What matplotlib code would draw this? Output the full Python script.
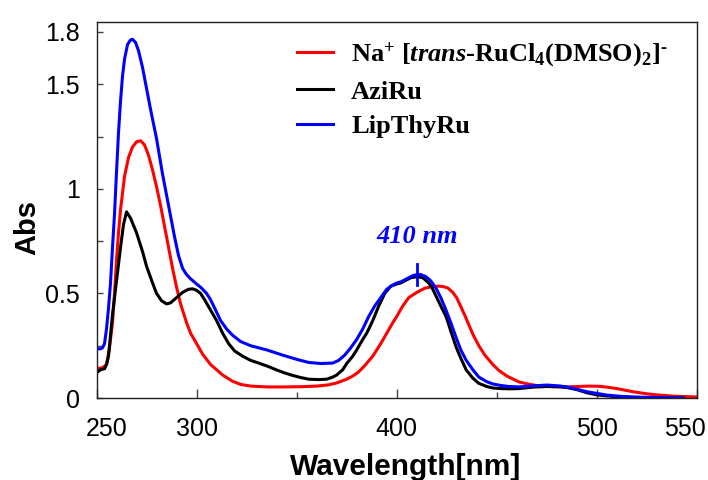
import matplotlib
matplotlib.use("Agg")
import matplotlib.pyplot as plt
import matplotlib.transforms as mtransforms

# Na+ [trans-RuCl4(DMSO)2]-
red_x = [250, 253, 255, 256.5, 258, 259, 260, 261, 262, 264, 266, 268, 270, 272, 274, 276, 278, 280,
         282, 285, 288, 290, 292, 295, 297, 300, 303, 307, 310, 313, 318, 322, 327, 335, 343, 352, 360,
         366, 370, 375, 378, 381, 384, 388, 392, 395, 398, 400, 403, 406, 410, 414, 418, 421, 423.5,
         425.5, 428, 430, 432, 434, 436, 438, 441, 444, 448, 451, 455, 461, 466, 471, 478, 485, 490, 496,
         501, 505, 510, 518, 525, 531, 540, 550]
red_y = [0.14, 0.145, 0.16, 0.24, 0.36, 0.50, 0.66, 0.79, 0.90, 1.06, 1.15, 1.20, 1.225, 1.23, 1.21,
         1.16, 1.09, 1.01, 0.92, 0.77, 0.62, 0.53, 0.45, 0.36, 0.31, 0.26, 0.21, 0.16, 0.135, 0.11, 0.08,
         0.065, 0.057, 0.053, 0.053, 0.054, 0.057, 0.063, 0.072, 0.09, 0.105, 0.125, 0.155, 0.20, 0.26,
         0.31, 0.36, 0.39, 0.44, 0.48, 0.505, 0.525, 0.533, 0.535, 0.532, 0.526, 0.505, 0.478, 0.437,
         0.395, 0.35, 0.305, 0.25, 0.205, 0.16, 0.132, 0.105, 0.077, 0.066, 0.058, 0.054, 0.053, 0.055,
         0.057, 0.056, 0.052, 0.045, 0.03, 0.02, 0.014, 0.008, 0.005]

# AziRu
black_x = [250, 252, 254, 255, 256, 257, 258, 260, 262, 263.5, 265, 267, 270, 273, 275, 278, 280, 282.5,
           285, 287, 290, 293, 296, 298, 300, 302, 304, 307, 310, 313, 316, 319, 323, 327, 331, 336, 340,
           344, 348, 352, 356, 361, 365, 368, 370, 373, 375, 378, 380, 383, 385, 388, 391, 394, 397, 400,
           402, 404, 407, 410, 413, 416, 418, 420, 422, 424.6, 427, 429.6, 432, 434.7, 438, 441, 445, 448,
           452, 456, 461, 468, 475, 481, 485, 490, 495, 500, 505, 512, 520, 543]
black_y = [0.12, 0.135, 0.14, 0.16, 0.20, 0.30, 0.40, 0.56, 0.72, 0.83, 0.89, 0.86, 0.79, 0.70, 0.63, 0.55,
           0.50, 0.465, 0.45, 0.455, 0.48, 0.505, 0.52, 0.522, 0.515, 0.50, 0.47, 0.42, 0.37, 0.31, 0.26,
           0.225, 0.20, 0.18, 0.167, 0.15, 0.134, 0.12, 0.108, 0.098, 0.09, 0.088, 0.09, 0.10, 0.11, 0.135,
           0.165, 0.20, 0.23, 0.28, 0.31, 0.37, 0.44, 0.50, 0.535, 0.545, 0.55, 0.56, 0.575, 0.58, 0.575,
           0.55, 0.52, 0.48, 0.44, 0.39, 0.32, 0.245, 0.19, 0.134, 0.095, 0.07, 0.055, 0.048, 0.045, 0.044,
           0.045, 0.052, 0.055, 0.054, 0.05, 0.04, 0.025, 0.015, 0.01, 0.005, 0.002, 0.0]

# LipThyRu
blue_x = [250, 252, 253, 254, 255, 256, 257, 258, 259, 260, 261, 262, 263, 264, 265.5, 267, 268, 269.5,
          271, 273, 275, 277, 280, 283, 285, 287, 289, 291, 293, 295, 297, 300, 302, 305, 307, 310, 312,
          315, 318, 322, 327, 335, 343, 350, 356, 362, 368, 371, 374, 377, 380, 383, 386, 389, 392, 395,
          398, 400, 402, 405, 408, 410, 412, 414.6, 417, 419.6, 422, 424.6, 427, 429.6, 432, 434.7, 438,
          441, 445, 448, 452, 456, 461, 468, 475, 481, 485, 490, 495, 500, 505, 512, 518, 530, 543]
blue_y = [0.235, 0.235, 0.24, 0.26, 0.33, 0.43, 0.55, 0.72, 0.88, 1.08, 1.27, 1.42, 1.54, 1.62, 1.69,
          1.712, 1.715, 1.70, 1.66, 1.58, 1.48, 1.38, 1.24, 1.07, 0.97, 0.87, 0.77, 0.68, 0.62, 0.59, 0.57,
          0.545, 0.53, 0.50, 0.47, 0.41, 0.37, 0.33, 0.30, 0.27, 0.25, 0.23, 0.205, 0.185, 0.17, 0.165,
          0.167, 0.18, 0.205, 0.24, 0.28, 0.33, 0.39, 0.44, 0.48, 0.52, 0.54, 0.55, 0.555, 0.57, 0.585,
          0.59, 0.59, 0.58, 0.56, 0.525, 0.48, 0.42, 0.36, 0.29, 0.23, 0.18, 0.135, 0.10, 0.078, 0.067,
          0.06, 0.055, 0.053, 0.058, 0.062, 0.058, 0.053, 0.042, 0.03, 0.022, 0.014, 0.008, 0.005, 0.002,
          0.0]

labels = ['Na$^{+}$ [$\\mathit{trans}$-RuCl$_{4}$(DMSO)$_{2}$]$^{\u2010}$', 'AziRu', 'LipThyRu']
colors = ['#ff0000', '#000000', '#0000ff']

x_ticks = [250, 300, 400, 500, 550]
x_minor = [350, 450]
y_ticks = [0, 0.25, 0.5, 0.75, 1, 1.25, 1.5, 1.75]
y_labels = ['0', '', '0.5', '', '1', '', '1.5', '1.8']

peak_x = 410
peak_text = '410 nm'

plt.rcParams['font.family'] = 'Liberation Sans'
plt.rcParams['mathtext.fontset'] = 'custom'
plt.rcParams['mathtext.rm'] = 'Liberation Serif:bold'
plt.rcParams['mathtext.it'] = 'Liberation Serif:italic:bold'
plt.rcParams['mathtext.bf'] = 'Liberation Serif:bold'


def main():
    fig = plt.figure(figsize=(7.08, 4.8), dpi=100)
    ax = fig.add_axes([0.1363, 0.1708, 0.8482, 0.7844])

    for xs, ys, c, lab in zip([red_x, black_x, blue_x], [red_y, black_y, blue_y], colors, labels):
        ax.plot(xs, ys, color=c, lw=2.2, label=lab, solid_joinstyle='round')

    ax.plot([peak_x, peak_x], [0.54, 0.64], color='#0000ff', lw=2)
    ax.text(peak_x, 0.77, peak_text, color='#0000ff', ha='center', va='center',
            fontsize=19, fontweight='bold', fontstyle='italic', family='Liberation Serif')

    ax.set_xlim(250, 550)
    ax.set_ylim(0, 1.8)

    ax.set_xticks(x_ticks)
    ax.set_xticklabels([str(v) for v in x_ticks])
    ax.set_xticks(x_minor, minor=True)
    ax.set_yticks(y_ticks)
    ax.set_yticklabels(y_labels)

    ax.tick_params(axis='x', which='major', direction='in', length=6.5, width=1, pad=13.5,
                   labelsize=18, color='#444444')
    ax.tick_params(axis='x', which='minor', direction='in', length=4.3, width=1, color='#444444')
    ax.tick_params(axis='y', direction='in', length=4, width=1, pad=12, labelsize=18, color='#444444')

    # end labels sit a bit inside the frame
    fig.canvas.draw()
    xlabs = ax.get_xticklabels()
    xlabs[0].set_transform(xlabs[0].get_transform() + mtransforms.ScaledTranslation(0.10, 0, fig.dpi_scale_trans))
    xlabs[-1].set_transform(xlabs[-1].get_transform() + mtransforms.ScaledTranslation(-0.12, 0, fig.dpi_scale_trans))

    for sp in ax.spines.values():
        sp.set_linewidth(1)
        sp.set_color('#222222')

    ax.set_xlabel('Wavelength[nm]', fontsize=21.5, fontweight='bold')
    ax.set_ylabel('Abs', fontsize=21, fontweight='bold')
    ax.xaxis.set_label_coords(0.514, -0.146)
    ax.yaxis.set_label_coords(-0.092, 0.454)

    ax.legend(loc='upper left', bbox_to_anchor=(0.334, 0.951), frameon=False, borderpad=0,
              borderaxespad=0, handlelength=1.35, handletextpad=0.7, labelspacing=0.43,
              prop={'family': 'Liberation Serif', 'weight': 'bold', 'size': 19})

    fig.savefig('out.png', dpi=100)


if __name__ == "__main__":
    main()
